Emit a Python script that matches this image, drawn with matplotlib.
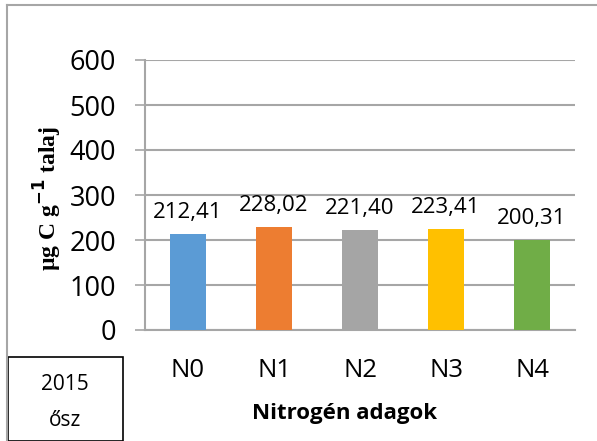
import matplotlib.pyplot as plt
from matplotlib.patches import Rectangle

categories = ["N0", "N1", "N2", "N3", "N4"]
values = [212.41, 228.02, 221.40, 223.41, 200.31]
value_labels = ["212,41", "228,02", "221,40", "223,41", "200,31"]
colors = ["#5B9BD5", "#ED7D31", "#A5A5A5", "#FFC000", "#70AD47"]
y_ticks = [0, 100, 200, 300, 400, 500, 600]

W, H = 597, 441
fig = plt.figure(figsize=(W / 100, H / 100), dpi=100)
plt.rcParams["font.family"] = ["Open Sans", "DejaVu Sans"]

# outer chart-area border (only top and left visible)
border = "#A6A6A6"
fig.add_artist(plt.Line2D([7 / W, 1], [1 - 5 / H, 1 - 5 / H], color=border, lw=1.5, transform=fig.transFigure))
fig.add_artist(plt.Line2D([7 / W, 7 / W], [0, 1 - 5 / H], color=border, lw=1.5, transform=fig.transFigure))

ax = fig.add_axes([145 / W, 1 - 330 / H, 430 / W, 270 / H])
x = range(len(categories))
ax.bar(x, values, width=0.41, color=colors, zorder=3)
for xi, v, lab in zip(x, values, value_labels):
    ax.annotate(lab, (xi, v), xytext=(0, 8), textcoords="offset points",
                ha="center", va="bottom", fontsize=16, color="black")

ax.set_xlim(-0.5, len(categories) - 0.5)
ax.set_ylim(0, 600)
ax.set_yticks(y_ticks)
ax.set_yticklabels([str(t) for t in y_ticks], fontsize=19.5)
ax.set_xticks(list(x))
ax.set_xticklabels(categories, fontsize=18.5)
ax.yaxis.grid(True, color="#A6A6A6", lw=1.5, zorder=0)
for s in ["top", "right"]:
    ax.spines[s].set_visible(False)
ax.spines["left"].set_color("#A6A6A6")
ax.spines["left"].set_linewidth(1.5)
ax.spines["bottom"].set_color("#A6A6A6")
ax.spines["bottom"].set_linewidth(1.5)
ax.tick_params(axis="y", length=7, color="#A6A6A6", width=1.2, pad=14)
ax.tick_params(axis="x", length=0, pad=20)

fig.text(345 / W, 1 - 413 / H, "Nitrogén adagok", ha="center", va="center",
         fontsize=16, fontweight="bold")
fig.text(48 / W, 1 - 199 / H, r"µg C g$^{\mathbf{-1}}$ talaj", rotation=90,
         ha="center", va="center", fontsize=17, fontweight="bold", family="Liberation Serif")

# season box
fig.add_artist(Rectangle((8 / W, 0), 115 / W, (441 - 357) / H, transform=fig.transFigure,
                         fill=False, edgecolor="black", lw=1.2))
fig.text(65 / W, 1 - 384 / H, "2015", ha="center", va="center", fontsize=15)
fig.text(65 / W, 1 - 420 / H, "ősz", ha="center", va="center", fontsize=15)

fig.savefig("out.png", dpi=100)
